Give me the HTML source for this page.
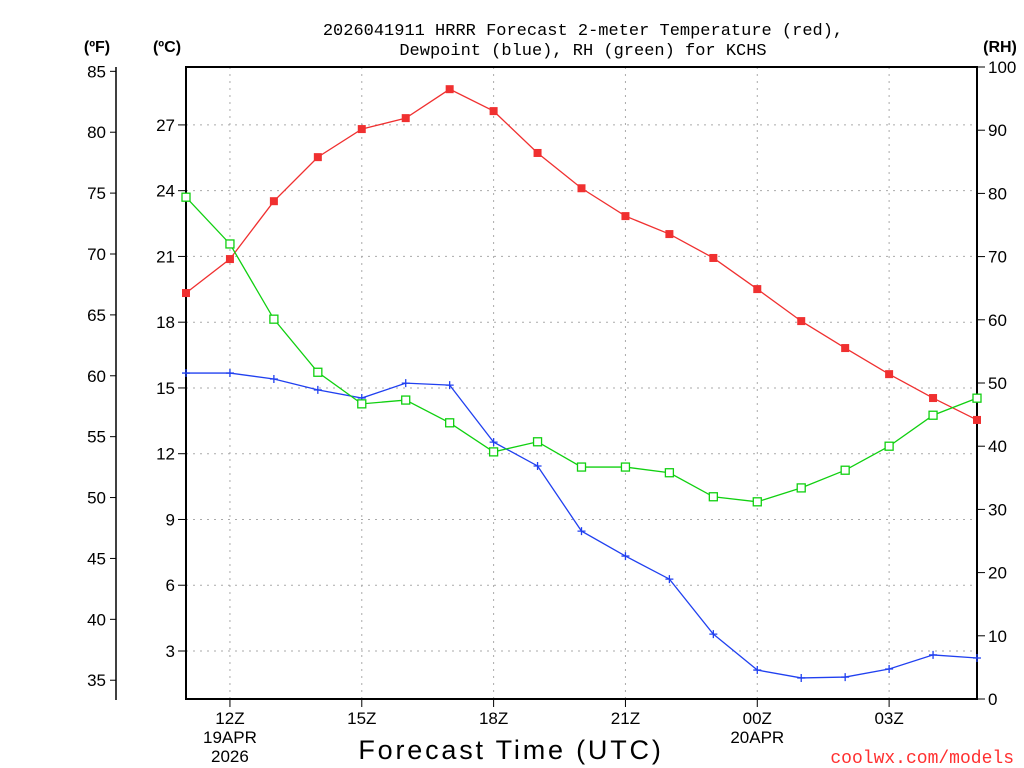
<!DOCTYPE html>
<html><head><meta charset="utf-8"><style>
html,body{margin:0;padding:0;background:#fff;}
svg{display:block;font-family:"Liberation Sans",sans-serif;}
</style></head><body>
<svg id="chart" width="1024" height="768" xmlns="http://www.w3.org/2000/svg">
<g id="grid"></g>
<g id="axes"></g>
<g id="series"></g>
<text x="583" y="35" font-size="17" font-family="Liberation Mono, monospace" text-anchor="middle">2026041911 HRRR Forecast 2-meter Temperature (red),</text>
<text x="583" y="55" font-size="17" font-family="Liberation Mono, monospace" text-anchor="middle">Dewpoint (blue), RH (green) for KCHS</text>
<text x="97" y="52" font-size="16" font-weight="bold" text-anchor="middle">(ºF)</text>
<text x="167" y="52" font-size="16" font-weight="bold" text-anchor="middle">(ºC)</text>
<text x="1000" y="52" font-size="16" font-weight="bold" text-anchor="middle">(RH)</text>
<text x="511" y="759" font-size="27" text-anchor="middle" letter-spacing="2.8">Forecast Time (UTC)</text>
<text x="1014" y="763" font-size="18" font-family="Liberation Mono, monospace" fill="#ff3030" text-anchor="end">coolwx.com/models</text>
</svg>
<script>
const hours = [0,1,2,3,4,5,6,7,8,9,10,11,12,13,14,15,16,17,18];
const tempC = [19.33,20.88,23.52,25.53,26.81,27.31,28.63,27.63,25.72,24.11,22.84,22.02,20.93,19.51,18.05,16.82,15.63,14.54,13.54];
const dewC = [15.68,15.68,15.41,14.91,14.54,15.22,15.13,12.53,11.44,8.47,7.33,6.28,3.77,2.13,1.77,1.81,2.18,2.82,2.68];
const rh = [79.4,72.0,60.1,51.7,46.7,47.3,43.7,39.1,40.7,36.7,36.7,35.8,32.0,31.2,33.4,36.2,40.0,44.9,47.6];
const cTicks = [3,6,9,12,15,18,21,24,27];
const fTicks = [35,40,45,50,55,60,65,70,75,80,85];
const rhTicks = [0,10,20,30,40,50,60,70,80,90,100];
const xTickHours = [1,4,7,10,13,16];
const xTickLabels = [["12Z","19APR","2026"],["15Z"],["18Z"],["21Z"],["00Z","20APR"],["03Z"]];

const L=186,R=977,T=67,B=699;
const xs=h=>L+h*(R-L)/18;
const yc=c=>716.75-c*21.92;
const yf=f=>yc((f-32)*5/9);
const yr=r=>B-r*(B-T)/100;
const NS="http://www.w3.org/2000/svg";
function mk(tag,attrs,parent,txt){const e=document.createElementNS(NS,tag);for(const k in attrs)e.setAttribute(k,attrs[k]);if(txt!==undefined)e.textContent=txt;parent.appendChild(e);return e;}
const grid=document.getElementById('grid'),axes=document.getElementById('axes'),series=document.getElementById('series');
cTicks.forEach(c=>{const y=yc(c);
 const g=mk('line',{x1:L,x2:R,y1:y,y2:y,stroke:'#aaa','stroke-dasharray':'2,5'},grid);
 
 
 mk('line',{x1:L-8,x2:L,y1:y,y2:y,stroke:'#000'},axes);
 const t=mk('text',{x:L-11,y:y+6,'font-size':17,'text-anchor':'end'},axes,String(c));
 
 
});
xTickHours.forEach((h,i)=>{const x=xs(h);
 const g=mk('line',{x1:x,x2:x,y1:T,y2:B,stroke:'#aaa','stroke-dasharray':'2,5'},grid);
 
 
 mk('line',{x1:x,x2:x,y1:B,y2:B+8,stroke:'#000'},axes);
 xTickLabels[i].forEach((s,j)=>{const t=mk('text',{x:x,y:724+j*19,'font-size':17,'text-anchor':'middle'},axes,s);
  
  });
});
mk('line',{x1:116,x2:116,y1:67,y2:700,stroke:'#000','stroke-width':1.5},axes);
fTicks.forEach(f=>{const y=yf(f);
 mk('line',{x1:110,x2:116,y1:y,y2:y,stroke:'#000'},axes);
 const t=mk('text',{x:106,y:y+6,'font-size':17,'text-anchor':'end'},axes,String(f));
 
 
});
rhTicks.forEach(r=>{const y=yr(r);
 mk('line',{x1:R,x2:R+8,y1:y,y2:y,stroke:'#000'},axes);
 const t=mk('text',{x:988,y:y+6,'font-size':17},axes,String(r));
 
 
});
const frame=mk('rect',{x:L,y:T,width:R-L,height:B-T,fill:'none',stroke:'#000','stroke-width':2},axes);



function line(vals,yf2,color,name){
 const p=mk('polyline',{points:vals.map((v,i)=>xs(hours[i])+','+yf2(v)).join(' '),fill:'none',stroke:color,'stroke-width':1.3},series);
 
 
}
line(tempC,yc,'#f03030','temperature');
line(dewC,yc,'#2040f0','dewpoint');
line(rh,yr,'#10d010','rh');
tempC.forEach((v,i)=>{const m=mk('rect',{x:xs(hours[i])-4,y:yc(v)-4,width:8,height:8,fill:'#f03030'},series);
 
 });
dewC.forEach((v,i)=>{const x=xs(hours[i]),y=yc(v);
 const m=mk('path',{d:`M${x-4},${y}H${x+4}M${x},${y-4}V${y+4}`,stroke:'#2040f0','stroke-width':1.3},series);
 
 });
rh.forEach((v,i)=>{const m=mk('rect',{x:xs(hours[i])-4,y:yr(v)-4,width:8,height:8,fill:'#fff',stroke:'#10d010','stroke-width':1.3},series);
 
 });
</script>
</body></html>
